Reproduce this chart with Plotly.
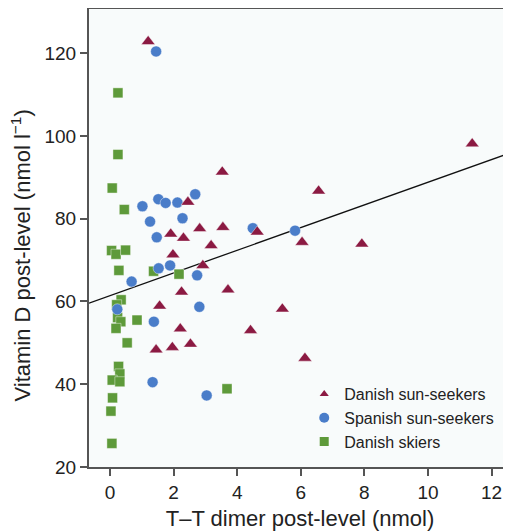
import plotly.graph_objects as go

# Danish sun-seekers (triangles)
dsun_x = [1.2, 3.53, 2.45, 1.91, 2.31, 2.82, 3.55, 4.63, 6.04, 3.18, 1.98, 2.92, 2.25, 3.71,
          1.56, 5.42, 2.21, 4.42, 1.45, 1.96, 2.53, 6.13, 11.39, 6.56, 7.92]
dsun_y = [122.8, 91.3, 84.0, 76.3, 75.3, 77.6, 77.9, 76.8, 74.3, 73.5, 71.3, 68.7, 62.3, 62.8,
          58.9, 58.2, 53.4, 53.0, 48.3, 48.9, 49.7, 46.3, 98.1, 86.7, 73.9]

# Spanish sun-seekers (circles)
ssun_x = [1.45, 1.02, 1.26, 1.52, 1.75, 2.12, 2.28, 2.68, 1.47, 4.49, 5.82, 1.53, 1.89, 2.74,
          0.68, 0.23, 2.81, 1.38, 1.34, 3.04]
ssun_y = [120.4, 83.0, 79.3, 84.7, 83.8, 83.9, 80.1, 85.9, 75.5, 77.7, 77.1, 68.0, 68.7, 66.3,
          64.8, 58.1, 58.7, 55.1, 40.5, 37.3]

# Danish skiers (squares)
ski_x = [0.25, 0.25, 0.07, 0.45, 0.05, 0.19, 0.49, 0.28, 1.37, 2.17, 0.35, 0.21, 0.24, 0.34,
         0.19, 0.85, 0.54, 0.27, 0.31, 0.07, 0.31, 0.08, 0.03, 0.06, 3.68]
ski_y = [110.4, 95.5, 87.4, 82.2, 72.3, 71.4, 72.4, 67.5, 67.3, 66.6, 60.4, 59.2, 56.1, 55.1,
         53.5, 55.5, 50.0, 44.3, 42.5, 41.0, 40.6, 36.7, 33.5, 25.7, 38.9]

# regression line parameters
fit_intercept = 61.4
fit_slope = 2.74

x_range = [-0.66, 12.61]
y_range = [20, 130.9]
x_ticks = [0, 2, 4, 6, 8, 10, 12]
y_ticks = [20, 40, 60, 80, 100, 120]

names = ["Danish sun-seekers", "Spanish sun-seekers", "Danish skiers"]
colors = ["#8B1A42", "#4A7DC9", "#5E9A3A"]
symbols = ["triangle-up", "circle", "square"]
sizes = [12, 11, 10]
leg_sizes = [8, 10, 9]

fig = go.Figure()

line_x = x_range
line_y = [fit_intercept + fit_slope * v for v in line_x]
fig.add_trace(go.Scatter(x=line_x, y=line_y, mode="lines",
                         line=dict(color="#111111", width=1.3),
                         showlegend=False, hoverinfo="skip"))

for xs, ys, c, s, sz in [(ski_x, ski_y, colors[2], symbols[2], sizes[2]),
                         (ssun_x, ssun_y, colors[1], symbols[1], sizes[1]),
                         (dsun_x, dsun_y, colors[0], symbols[0], sizes[0])]:
    fig.add_trace(go.Scatter(x=xs, y=ys, mode="markers",
                             marker=dict(color=c, symbol=s, size=sz,
                                         line=dict(color="rgba(255,255,255,0.7)", width=0.6)),
                             showlegend=False))

for n, c, s, sz in zip(names, colors, symbols, leg_sizes):
    fig.add_trace(go.Scatter(x=[None], y=[None], mode="markers", name=n,
                             marker=dict(color=c, symbol=s, size=sz)))

fig.update_layout(
    width=503, height=523,
    margin=dict(l=81, r=0, t=0, b=64, pad=0),
    paper_bgcolor="white",
    plot_bgcolor="#f8fbfb",
    font=dict(family="Liberation Sans, Arial, sans-serif", size=18, color="#222222"),
    legend=dict(x=0.51, y=0.196, xanchor="left", yanchor="top",
                bgcolor="rgba(0,0,0,0)", font=dict(size=16),
                itemsizing="trace", tracegroupgap=0),
    xaxis=dict(range=x_range, tickvals=x_ticks, showgrid=False, zeroline=False,
               showline=True, linecolor="#555555", linewidth=2,
               ticks="outside", ticklen=7, tickwidth=2, tickcolor="#555555",
               tickfont=dict(size=19),
               title=dict(text="T–T dimer post-level (nmol)", standoff=9)),
    yaxis=dict(range=y_range, tickvals=y_ticks, showgrid=False, zeroline=False,
               showline=True, linecolor="#555555", linewidth=2,
               ticks="outside", ticklen=7, tickwidth=2, tickcolor="#555555",
               tickfont=dict(size=19)),
    annotations=[dict(text="Vitamin D post-level (nmol l<sup>−1</sup>)", textangle=-90,
                      xref="paper", yref="paper", x=-0.162, y=0.46,
                      xanchor="center", yanchor="middle", showarrow=False,
                      font=dict(size=22))],
    shapes=[dict(type="line", xref="paper", yref="paper", x0=0, x1=1, y0=1, y1=1,
                 line=dict(color="#555555", width=2))],
)

fig.write_html("out.html")
